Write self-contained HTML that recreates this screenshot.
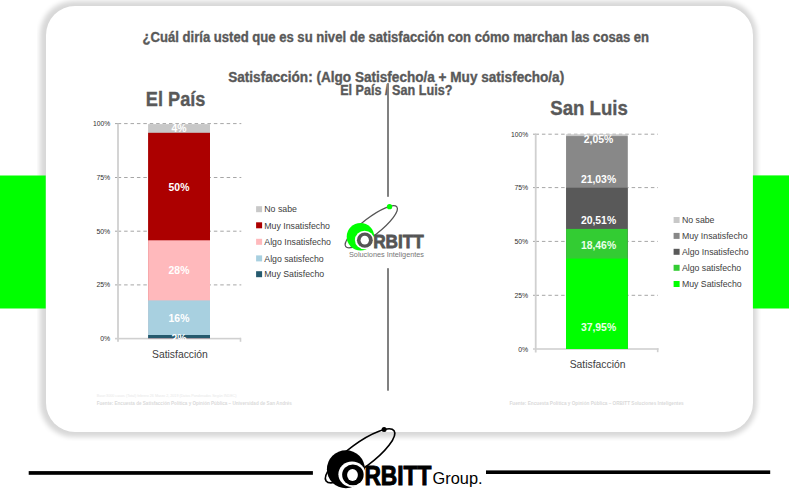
<!DOCTYPE html>
<html><head><meta charset="utf-8">
<style>
html,body{margin:0;padding:0;background:#fff;}
body{width:789px;height:490px;position:relative;overflow:hidden;font-family:"Liberation Sans",sans-serif;}
#clip{position:absolute;left:37px;top:-20px;width:724px;height:461px;overflow:hidden;}
#card{position:absolute;left:8.5px;top:26px;width:707px;height:425.8px;background:#fff;border-radius:29px;box-shadow:-1px 0 5px 4.5px rgba(0,0,0,0.158);}
svg{position:absolute;left:0;top:0;}
text{font-family:"Liberation Sans",sans-serif;}
</style></head>
<body>
<div id="clip"><div id="card"></div></div>
<svg width="789" height="490" viewBox="0 0 789 490">
<!-- side green bars -->
<rect x="0" y="175.5" width="45.7" height="133" fill="#00ff00"/>
<rect x="752.9" y="175.4" width="36.1" height="133.1" fill="#00ff00"/>

<!-- titles -->
<g fill="#595959" font-weight="bold" stroke="#595959" stroke-width="0.35">
<text x="142.6" y="41.8" font-size="13.8" textLength="506.5" lengthAdjust="spacingAndGlyphs">¿Cuál diría usted que es su nivel de satisfacción con cómo marchan las cosas en</text>
<text x="228.2" y="81.7" font-size="13.8" textLength="336" lengthAdjust="spacingAndGlyphs">Satisfacción: (Algo Satisfecho/a + Muy satisfecho/a)</text>
<text x="340.2" y="94.6" font-size="13.8" textLength="112.2" lengthAdjust="spacingAndGlyphs">El País / San Luis?</text>
<text x="145.8" y="105.8" font-size="20.1" textLength="59.6" lengthAdjust="spacingAndGlyphs">El País</text>
<text x="550.3" y="114.8" font-size="20.1" textLength="77.6" lengthAdjust="spacingAndGlyphs">San Luis</text>
</g>

<!-- divider -->
<rect x="387" y="83.2" width="2" height="113.6" fill="#808080"/>
<rect x="387" y="268.2" width="2" height="122.5" fill="#808080"/>

<!-- LEFT CHART -->
<g stroke="#a6a6a6" stroke-width="1" fill="none">
<g stroke-dasharray="3.5 2.91">
<line x1="117.7" y1="123.6" x2="241.3" y2="123.6"/>
<line x1="117.7" y1="177.5" x2="241.3" y2="177.5"/>
<line x1="117.7" y1="231.2" x2="241.3" y2="231.2"/>
<line x1="117.7" y1="284.9" x2="241.3" y2="284.9"/>
</g>
<line x1="115" y1="123.6" x2="118" y2="123.6"/>
<line x1="115" y1="177.5" x2="118" y2="177.5"/>
<line x1="115" y1="231.2" x2="118" y2="231.2"/>
<line x1="115" y1="284.9" x2="118" y2="284.9"/>
</g>
<rect x="117.1" y="123.6" width="1.8" height="218.2" fill="#d0d0d0"/>
<rect x="115" y="337.8" width="126" height="1.6" fill="#d0d0d0"/>
<rect x="239.7" y="337.8" width="1.6" height="4" fill="#d0d0d0"/>
<rect x="148.1" y="124.1" width="61.9" height="214.1" fill="#c8c8c8"/>
<rect x="148.1" y="132.8" width="61.9" height="205.4" fill="#ac0000"/>
<rect x="148.1" y="240.3" width="61.9" height="97.9" fill="#ffb9bc"/>
<rect x="148.1" y="300.4" width="61.9" height="37.8" fill="#a8d0e0"/>
<rect x="148.1" y="335" width="61.9" height="3.2" fill="#255a6e"/>
<g fill="#fff" font-weight="bold" font-size="10.4" text-anchor="middle">
<text x="179" y="132">4%</text>
<text x="179" y="190.6">50%</text>
<text x="179" y="274.3">28%</text>
<text x="179" y="321.9">16%</text>
<text x="179" y="341.6">2%</text>
</g>
<g fill="#303030" font-size="7.7">
<text x="93.0" y="126.1" textLength="17.2" lengthAdjust="spacingAndGlyphs">100%</text>
<text x="96.4" y="180.0" textLength="13.8" lengthAdjust="spacingAndGlyphs">75%</text>
<text x="96.4" y="233.7" textLength="13.8" lengthAdjust="spacingAndGlyphs">50%</text>
<text x="96.4" y="287.4" textLength="13.8" lengthAdjust="spacingAndGlyphs">25%</text>
<text x="100.2" y="341.1" textLength="10.0" lengthAdjust="spacingAndGlyphs">0%</text>
</g>
<text x="152" y="358" font-size="10.3" fill="#404040" textLength="55.8" lengthAdjust="spacingAndGlyphs">Satisfacción</text>
<!-- left legend -->
<rect x="256.1" y="206.2" width="6" height="6" fill="#c8c8c8"/>
<rect x="256.1" y="222.3" width="6" height="6" fill="#ac0000"/>
<rect x="256.1" y="238.8" width="6" height="6" fill="#ffb9bc"/>
<rect x="256.1" y="255.4" width="6" height="6" fill="#a8d0e0"/>
<rect x="256.1" y="271.2" width="6" height="6" fill="#255a6e"/>
<g fill="#404040" font-size="8.75">
<text x="264.3" y="212.4">No sabe</text>
<text x="264.3" y="228.5">Muy Insatisfecho</text>
<text x="264.3" y="245">Algo Insatisfecho</text>
<text x="264.3" y="261.6">Algo satisfecho</text>
<text x="264.3" y="277.4">Muy Satisfecho</text>
</g>

<!-- RIGHT CHART -->
<g stroke="#a6a6a6" stroke-width="1" fill="none">
<g stroke-dasharray="3.5 2.91">
<line x1="535.5" y1="134.2" x2="658" y2="134.2"/>
<line x1="535.5" y1="187.6" x2="658" y2="187.6"/>
<line x1="535.5" y1="241.4" x2="658" y2="241.4"/>
<line x1="535.5" y1="295.3" x2="658" y2="295.3"/>
</g>
<line x1="533" y1="134.2" x2="536" y2="134.2"/>
<line x1="533" y1="187.6" x2="536" y2="187.6"/>
<line x1="533" y1="241.4" x2="536" y2="241.4"/>
<line x1="533" y1="295.3" x2="536" y2="295.3"/>
</g>
<rect x="534.8" y="134.2" width="1.8" height="218.3" fill="#d0d0d0"/>
<rect x="533" y="348.2" width="125.5" height="1.6" fill="#d0d0d0"/>
<rect x="656.9" y="348.2" width="1.6" height="4" fill="#d0d0d0"/>
<rect x="566.1" y="134.3" width="61.6" height="214.7" fill="#c8c8c8"/>
<rect x="566.1" y="136.1" width="61.6" height="212.9" fill="#888888"/>
<rect x="566.1" y="187.7" width="61.6" height="161.3" fill="#595959"/>
<rect x="566.1" y="228.9" width="61.6" height="120.1" fill="#33cc33"/>
<rect x="566.1" y="258.6" width="61.6" height="90.4" fill="#00ff00"/>
<g fill="#fff" font-weight="bold" font-size="10.4" text-anchor="middle">
<text x="598.5" y="143.1">2,05%</text>
<text x="598.5" y="182.9">21,03%</text>
<text x="598.5" y="223.6">20,51%</text>
<text x="598.5" y="248.6" fill="#eaffea">18,46%</text>
<text x="598.5" y="331.1" fill="#eaffea">37,95%</text>
</g>
<g fill="#303030" font-size="7.7">
<text x="511.0" y="136.7" textLength="17.2" lengthAdjust="spacingAndGlyphs">100%</text>
<text x="514.4" y="190.1" textLength="13.8" lengthAdjust="spacingAndGlyphs">75%</text>
<text x="514.4" y="243.9" textLength="13.8" lengthAdjust="spacingAndGlyphs">50%</text>
<text x="514.4" y="297.8" textLength="13.8" lengthAdjust="spacingAndGlyphs">25%</text>
<text x="518.2" y="351.5" textLength="10.0" lengthAdjust="spacingAndGlyphs">0%</text>
</g>
<text x="569.7" y="367.7" font-size="10.3" fill="#404040" textLength="55.8" lengthAdjust="spacingAndGlyphs">Satisfacción</text>
<!-- right legend -->
<rect x="673.6" y="217" width="6" height="6" fill="#c8c8c8"/>
<rect x="673.6" y="232.9" width="6" height="6" fill="#888888"/>
<rect x="673.6" y="248.8" width="6" height="6" fill="#595959"/>
<rect x="673.6" y="264.8" width="6" height="6" fill="#33cc33"/>
<rect x="673.6" y="281" width="6" height="6" fill="#00ff00"/>
<g fill="#404040" font-size="8.75">
<text x="681.9" y="223.2">No sabe</text>
<text x="681.9" y="239.1">Muy Insatisfecho</text>
<text x="681.9" y="255">Algo Insatisfecho</text>
<text x="681.9" y="271">Algo satisfecho</text>
<text x="681.9" y="287.2">Muy Satisfecho</text>
</g>

<!-- middle logo -->
<ellipse cx="371.3" cy="226.75" rx="32.34" ry="8.81" transform="rotate(-37.83 371.3 226.75)" fill="none" stroke="#555" stroke-width="1.3"/>
<circle cx="360.5" cy="236.8" r="13.8" fill="#00ff00"/>
<ellipse cx="364.6" cy="240.0" rx="9.7" ry="9.3" fill="#fff"/>
<ellipse cx="364.85" cy="240.2" rx="7.95" ry="7.6" fill="#555"/>
<ellipse cx="364.75" cy="240.2" rx="4.15" ry="4.4" fill="#fff"/>
<text x="373.2" y="247.6" font-size="19.2" font-weight="bold" fill="#555" stroke="#555" stroke-width="0.8" textLength="50.6" lengthAdjust="spacingAndGlyphs">RBITT</text>
<circle cx="389.55" cy="206.7" r="2.65" fill="#00ff00"/>
<text x="349" y="257.3" font-size="7.3" fill="#777" textLength="75" lengthAdjust="spacingAndGlyphs">Soluciones Inteligentes</text>

<!-- footers -->
<text x="96.7" y="397" font-size="4.4" fill="#e8e8e8" textLength="139.8" lengthAdjust="spacingAndGlyphs">Base:3000 casos (Total) febrero 26 Marzo 2, 2019 (Datos Ponderados Según INDEC)</text>
<text x="96.7" y="405" font-size="5.6" font-weight="bold" fill="#dadada" textLength="195.2" lengthAdjust="spacingAndGlyphs">Fuente: Encuesta de Satisfacción Política y Opinión Pública – Universidad de San Andrés</text>
<text x="509.5" y="405" font-size="5.6" font-weight="bold" fill="#dadada" textLength="174.1" lengthAdjust="spacingAndGlyphs">Fuente: Encuesta Política y Opinión Pública – ORBITT Soluciones Inteligentes</text>

<!-- bottom lines & logo -->
<rect x="28.7" y="471.1" width="284.2" height="3.7" fill="#000"/>
<rect x="486" y="470.4" width="284.2" height="3.6" fill="#000"/>
<ellipse cx="360.07" cy="455.84" rx="42.26" ry="12.16" transform="rotate(-36.41 360.07 455.84)" fill="none" stroke="#000" stroke-width="1.6"/>
<circle cx="345.9" cy="469.3" r="19" fill="#000"/>
<ellipse cx="352" cy="474.2" rx="13.6" ry="12.8" fill="#fff"/>
<ellipse cx="352.9" cy="474.8" rx="10.75" ry="10.4" fill="#000"/>
<ellipse cx="352.5" cy="475" rx="5.4" ry="5.9" fill="#fff"/>
<text x="364.4" y="484.8" font-size="26.8" font-weight="bold" fill="#000" stroke="#000" stroke-width="1" textLength="66.9" lengthAdjust="spacingAndGlyphs">RBITT</text>
<circle cx="384.1" cy="429.4" r="2.5" fill="#000"/>
<text x="432.6" y="483.7" font-size="15.6" fill="#000" textLength="50" lengthAdjust="spacingAndGlyphs">Group.</text>
</svg>
</body></html>
